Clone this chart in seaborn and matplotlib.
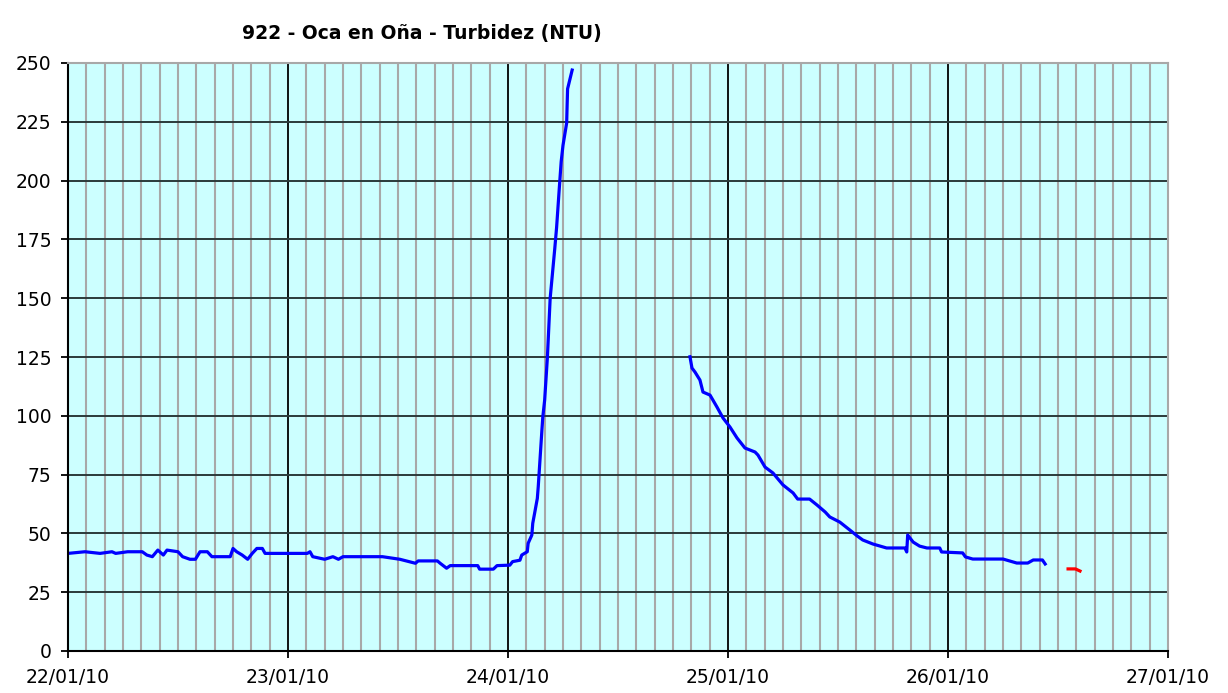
import pandas as pd
import seaborn as sns
import matplotlib.pyplot as plt
import matplotlib.dates as mdates

# hours after 22/01/10 00:00 and turbidity (NTU)
start = pd.Timestamp("2010-01-22")

hours_a = [0, 1.85, 3.5, 4.8, 5.2, 6.5, 8.1, 8.6, 9.2, 9.8, 10.4, 10.8, 12.0, 12.5,
           13.3, 13.9, 14.4, 15.2, 15.7, 17.7, 18.0, 18.4, 19.0, 19.6, 20.1, 20.6,
           21.2, 21.5, 26.1, 26.4, 26.7, 28.0, 28.9, 29.5, 30.0, 34.3, 36.2, 37.9,
           38.2, 40.3, 40.6, 41.3, 41.7, 44.7, 44.9, 46.4, 46.8, 48.2, 48.5, 49.3,
           49.5, 50.1, 50.2, 50.6, 50.7, 50.9, 51.2, 51.3, 51.5, 51.7, 51.8, 52.0,
           52.3, 52.6, 53.1, 53.3, 53.6, 53.8, 54.0, 54.4, 54.45, 54.5, 55.0]
ntu_a = [41.5, 42.2, 41.5, 42.2, 41.5, 42.2, 42.2, 40.8, 40.1, 42.9, 40.8, 42.9, 42.2, 40.1,
         39.0, 39.0, 42.2, 42.2, 40.1, 40.1, 43.6, 42.2, 40.8, 39.0, 41.5, 43.6,
         43.6, 41.5, 41.5, 42.2, 40.1, 39.0, 40.1, 39.0, 40.1, 40.1, 39.0, 37.3,
         38.3, 38.3, 37.3, 35.2, 36.3, 36.3, 34.8, 34.8, 36.3, 36.5, 38.0, 38.6,
         40.8, 42.2, 45.8, 49.3, 54.3, 58.5, 64.9, 69.9, 81.9, 94.0, 99.6, 106.7,
         125.0, 150.0, 171.0, 180.0, 197.0, 208.0, 215.0, 224.5, 232.0, 239.0, 247.0]

hours_b = [67.85, 68.07, 68.4, 68.94, 69.27, 70.04, 70.8, 71.45, 72.22, 72.98, 73.85,
           74.95, 75.27, 76.04, 76.9, 78.0, 79.1, 79.6, 80.9, 81.7, 82.6, 83.1, 84.2,
           85.3, 86.1, 86.7, 87.8, 89.3, 91.3, 91.5, 91.6, 92.2, 92.9, 93.7, 95.1,
           95.3, 97.6, 97.9, 98.7, 102.0, 103.5, 104.7, 105.3, 106.3, 106.6]
ntu_b = [125.1, 120.3, 118.6, 115.2, 110.1, 108.8, 103.7, 99.1, 95.2, 90.6, 86.3,
         84.6, 83.3, 78.2, 75.7, 70.6, 67.2, 64.6, 64.6, 62.1, 59.1, 57.0, 54.8,
         51.4, 48.9, 47.2, 45.5, 43.8, 43.8, 42.1, 49.3, 46.3, 44.6, 43.8, 43.8,
         42.1, 41.7, 40.0, 39.1, 39.1, 37.4, 37.4, 38.7, 38.7, 37.0]

hours_c = [109.1, 109.9, 110.4]
ntu_c = [34.9, 34.9, 34.0]


def frame(h, v):
    return pd.DataFrame({"t": start + pd.to_timedelta(h, unit="h"), "ntu": v})


fig = plt.figure(figsize=(12.28, 6.93), dpi=100)
ax = fig.add_axes([68 / 1228, 1 - 651 / 693, 1100 / 1228, 588 / 693])
ax.set_facecolor("#CCFFFF")

sns.lineplot(data=frame(hours_a, ntu_a), x="t", y="ntu", color="#0000FF",
             lw=2.3, estimator=None, sort=False, ax=ax)
sns.lineplot(data=frame(hours_b, ntu_b), x="t", y="ntu", color="#0000FF",
             lw=2.3, estimator=None, sort=False, ax=ax)
sns.lineplot(data=frame(hours_c, ntu_c), x="t", y="ntu", color="#FF0000",
             lw=2.3, estimator=None, sort=False, ax=ax)

ax.set_xlim(start, pd.Timestamp("2010-01-27"))
ax.set_ylim(0, 250)
ax.set_yticks(range(0, 251, 25))
ax.xaxis.set_major_locator(mdates.DayLocator())
ax.xaxis.set_major_formatter(mdates.DateFormatter("%d/%m/%y"))
ax.xaxis.set_minor_locator(mdates.HourLocator(byhour=range(2, 24, 2)))

ax.set_axisbelow(True)
ax.grid(axis="x", which="minor", color="#A8A8A8", lw=1.5)
ax.grid(axis="x", which="major", color="black", lw=1.3)
ax.grid(axis="y", which="major", color="#2a3a3a", lw=1.4)

ax.tick_params(axis="both", which="major", length=5, width=1.3, labelsize=13.5,
               color="black", pad=7)
ax.tick_params(axis="x", which="minor", length=0)
for side in ["left", "bottom"]:
    ax.spines[side].set_color("black")
    ax.spines[side].set_linewidth(1.5)
for side in ["top", "right"]:
    ax.spines[side].set_color("#A8A8A8")
    ax.spines[side].set_linewidth(1.5)

ax.set_xlabel("")
ax.set_ylabel("")
fig.text(422 / 1228, 1 - 33 / 693, "922 - Oca en Oña - Turbidez (NTU)",
         ha="center", va="center", fontsize=13.5, fontweight="bold")

fig.savefig("out.png", dpi=100, facecolor="white")
